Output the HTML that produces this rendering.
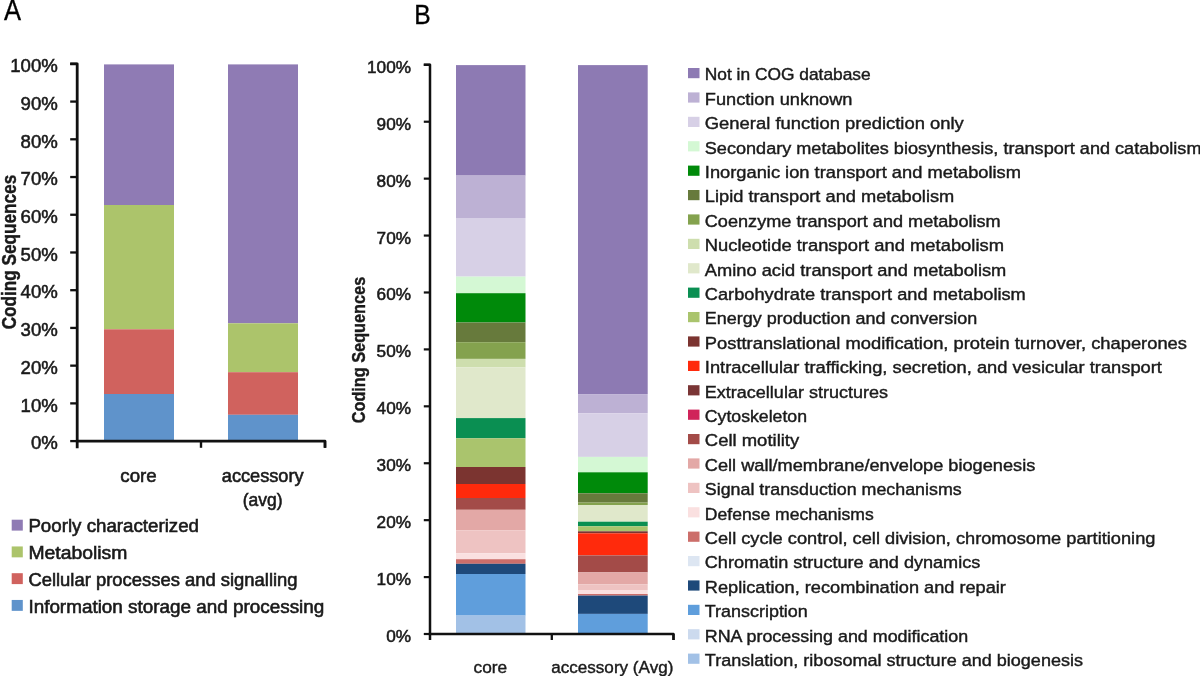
<!DOCTYPE html>
<html><head><meta charset="utf-8"><title>COG chart</title>
<style>
html,body{margin:0;padding:0;background:#fff;}
body{width:1200px;height:676px;overflow:hidden;}
svg{display:block;font-family:"Liberation Sans", sans-serif;filter:blur(0.3px);}
text{stroke:#1a1a1a;stroke-width:0.42px;}
</style></head><body>
<svg width="1200" height="676" viewBox="0 0 1200 676">
<rect width="1200" height="676" fill="#fff"/>
<rect x="104.00" y="64.40" width="70.00" height="140.60" fill="#8F7BB4"/>
<rect x="104.00" y="205.00" width="70.00" height="124.30" fill="#ACC46B"/>
<rect x="104.00" y="329.30" width="70.00" height="64.70" fill="#D0625E"/>
<rect x="104.00" y="394.00" width="70.00" height="47.10" fill="#5F93CB"/>
<rect x="228.00" y="64.40" width="70.00" height="258.90" fill="#8F7BB4"/>
<rect x="228.00" y="323.30" width="70.00" height="48.90" fill="#ACC46B"/>
<rect x="228.00" y="372.20" width="70.00" height="42.60" fill="#D0625E"/>
<rect x="228.00" y="414.80" width="70.00" height="26.30" fill="#5F93CB"/>
<path d="M70.2 63.85 H77.2 V448.2" fill="none" stroke="#111" stroke-width="2.8" stroke-linejoin="round"/>
<path d="M75.9 441.1 H325 V447.8" fill="none" stroke="#111" stroke-width="2.7" stroke-linejoin="round"/>
<line x1="70.2" y1="441.10" x2="77.2" y2="441.10" stroke="#111" stroke-width="2.3"/>
<line x1="70.2" y1="403.38" x2="77.2" y2="403.38" stroke="#111" stroke-width="2.3"/>
<line x1="70.2" y1="365.65" x2="77.2" y2="365.65" stroke="#111" stroke-width="2.3"/>
<line x1="70.2" y1="327.93" x2="77.2" y2="327.93" stroke="#111" stroke-width="2.3"/>
<line x1="70.2" y1="290.20" x2="77.2" y2="290.20" stroke="#111" stroke-width="2.3"/>
<line x1="70.2" y1="252.48" x2="77.2" y2="252.48" stroke="#111" stroke-width="2.3"/>
<line x1="70.2" y1="214.75" x2="77.2" y2="214.75" stroke="#111" stroke-width="2.3"/>
<line x1="70.2" y1="177.03" x2="77.2" y2="177.03" stroke="#111" stroke-width="2.3"/>
<line x1="70.2" y1="139.30" x2="77.2" y2="139.30" stroke="#111" stroke-width="2.3"/>
<line x1="70.2" y1="101.58" x2="77.2" y2="101.58" stroke="#111" stroke-width="2.3"/>
<line x1="70.2" y1="63.85" x2="77.2" y2="63.85" stroke="#111" stroke-width="2.3"/>
<line x1="201.0" y1="441.1" x2="201.0" y2="447.8" stroke="#111" stroke-width="2.4"/>
<line x1="325.0" y1="441.1" x2="325.0" y2="447.8" stroke="#111" stroke-width="2.4"/>
<text x="57.80" y="449.30" font-size="18.6" text-anchor="end" fill="#1a1a1a" style="stroke-width:0.55px">0%</text>
<text x="57.80" y="411.57" font-size="18.6" text-anchor="end" fill="#1a1a1a" style="stroke-width:0.55px">10%</text>
<text x="57.80" y="373.85" font-size="18.6" text-anchor="end" fill="#1a1a1a" style="stroke-width:0.55px">20%</text>
<text x="57.80" y="336.12" font-size="18.6" text-anchor="end" fill="#1a1a1a" style="stroke-width:0.55px">30%</text>
<text x="57.80" y="298.40" font-size="18.6" text-anchor="end" fill="#1a1a1a" style="stroke-width:0.55px">40%</text>
<text x="57.80" y="260.68" font-size="18.6" text-anchor="end" fill="#1a1a1a" style="stroke-width:0.55px">50%</text>
<text x="57.80" y="222.95" font-size="18.6" text-anchor="end" fill="#1a1a1a" style="stroke-width:0.55px">60%</text>
<text x="57.80" y="185.23" font-size="18.6" text-anchor="end" fill="#1a1a1a" style="stroke-width:0.55px">70%</text>
<text x="57.80" y="147.50" font-size="18.6" text-anchor="end" fill="#1a1a1a" style="stroke-width:0.55px">80%</text>
<text x="57.80" y="109.78" font-size="18.6" text-anchor="end" fill="#1a1a1a" style="stroke-width:0.55px">90%</text>
<text x="57.80" y="72.05" font-size="18.6" text-anchor="end" fill="#1a1a1a" style="stroke-width:0.55px">100%</text>
<text transform="translate(15.7,329.3) rotate(-90)" font-size="19.6" font-weight="bold" textLength="154.5" lengthAdjust="spacingAndGlyphs" fill="#1a1a1a">Coding Sequences</text>
<text x="120.30" y="481.80" font-size="18.6" textLength="36.3" lengthAdjust="spacingAndGlyphs" fill="#1a1a1a" style="stroke-width:0.6px">core</text>
<text x="221.80" y="481.80" font-size="18.6" textLength="81.8" lengthAdjust="spacingAndGlyphs" fill="#1a1a1a" style="stroke-width:0.6px">accessory</text>
<text x="242.80" y="505.50" font-size="18.6" textLength="39.8" lengthAdjust="spacingAndGlyphs" fill="#1a1a1a" style="stroke-width:0.6px">(avg)</text>
<text transform="translate(3.9,19.6) scale(0.88,1)" font-size="29" fill="#000" style="stroke:#000;stroke-width:0.35px">A</text>
<rect x="11.70" y="519.70" width="11.10" height="10.90" fill="#8F7BB4"/>
<text x="28.40" y="532.40" font-size="18.3" textLength="170.6" lengthAdjust="spacingAndGlyphs" fill="#1a1a1a" style="stroke-width:0.6px">Poorly characterized</text>
<rect x="11.70" y="546.45" width="11.10" height="10.90" fill="#ACC46B"/>
<text x="28.40" y="559.15" font-size="18.3" textLength="98.9" lengthAdjust="spacingAndGlyphs" fill="#1a1a1a" style="stroke-width:0.6px">Metabolism</text>
<rect x="11.70" y="573.20" width="11.10" height="10.90" fill="#D0625E"/>
<text x="28.40" y="585.90" font-size="18.3" textLength="269.2" lengthAdjust="spacingAndGlyphs" fill="#1a1a1a" style="stroke-width:0.6px">Cellular processes and signalling</text>
<rect x="11.70" y="599.95" width="11.10" height="10.90" fill="#5F93CB"/>
<text x="28.40" y="612.65" font-size="18.3" textLength="295.9" lengthAdjust="spacingAndGlyphs" fill="#1a1a1a" style="stroke-width:0.6px">Information storage and processing</text>
<rect x="456.00" y="65.10" width="69.50" height="110.50" fill="#8D7AB3"/>
<rect x="578.00" y="65.10" width="69.70" height="329.00" fill="#8D7AB3"/>
<rect x="456.00" y="175.60" width="69.50" height="42.40" fill="#BDB1D4"/>
<rect x="578.00" y="394.10" width="69.70" height="19.10" fill="#BDB1D4"/>
<rect x="456.00" y="218.00" width="69.50" height="58.60" fill="#D7D0E6"/>
<rect x="578.00" y="413.20" width="69.70" height="43.70" fill="#D7D0E6"/>
<rect x="456.00" y="276.60" width="69.50" height="16.60" fill="#D4F8D4"/>
<rect x="578.00" y="456.90" width="69.70" height="15.40" fill="#D4F8D4"/>
<rect x="456.00" y="293.20" width="69.50" height="29.30" fill="#008A0A"/>
<rect x="578.00" y="472.30" width="69.70" height="21.00" fill="#008A0A"/>
<rect x="456.00" y="322.50" width="69.50" height="19.70" fill="#677A3C"/>
<rect x="578.00" y="493.30" width="69.70" height="9.30" fill="#677A3C"/>
<rect x="456.00" y="342.20" width="69.50" height="16.70" fill="#84A24E"/>
<rect x="578.00" y="502.60" width="69.70" height="2.40" fill="#84A24E"/>
<rect x="456.00" y="358.90" width="69.50" height="8.50" fill="#CEDEAE"/>
<rect x="456.00" y="367.40" width="69.50" height="50.70" fill="#E0E8CB"/>
<rect x="578.00" y="505.00" width="69.70" height="16.70" fill="#E0E8CB"/>
<rect x="456.00" y="418.10" width="69.50" height="20.20" fill="#0A8F52"/>
<rect x="578.00" y="521.70" width="69.70" height="4.60" fill="#0A8F52"/>
<rect x="456.00" y="438.30" width="69.50" height="28.70" fill="#AAC46D"/>
<rect x="578.00" y="526.30" width="69.70" height="5.00" fill="#AAC46D"/>
<rect x="456.00" y="467.00" width="69.50" height="17.00" fill="#7B3430"/>
<rect x="578.00" y="531.30" width="69.70" height="2.00" fill="#7B3430"/>
<rect x="456.00" y="484.00" width="69.50" height="14.00" fill="#FF2A0C"/>
<rect x="578.00" y="533.30" width="69.70" height="22.10" fill="#FF2A0C"/>
<rect x="456.00" y="498.00" width="69.50" height="11.80" fill="#A34B48"/>
<rect x="578.00" y="555.40" width="69.70" height="17.00" fill="#A34B48"/>
<rect x="456.00" y="509.80" width="69.50" height="20.50" fill="#E3A8A6"/>
<rect x="578.00" y="572.40" width="69.70" height="11.90" fill="#E3A8A6"/>
<rect x="456.00" y="530.30" width="69.50" height="23.00" fill="#EEC3C2"/>
<rect x="578.00" y="584.30" width="69.70" height="5.70" fill="#EEC3C2"/>
<rect x="456.00" y="553.30" width="69.50" height="5.90" fill="#FAE0E0"/>
<rect x="578.00" y="590.00" width="69.70" height="4.00" fill="#FAE0E0"/>
<rect x="456.00" y="559.20" width="69.50" height="4.60" fill="#CC6E6A"/>
<rect x="578.00" y="594.00" width="69.70" height="1.60" fill="#CC6E6A"/>
<rect x="456.00" y="563.80" width="69.50" height="10.20" fill="#1E497A"/>
<rect x="578.00" y="595.60" width="69.70" height="18.30" fill="#1E497A"/>
<rect x="456.00" y="574.00" width="69.50" height="41.60" fill="#5F9EDC"/>
<rect x="578.00" y="613.90" width="69.70" height="19.10" fill="#5F9EDC"/>
<rect x="456.00" y="615.60" width="69.50" height="18.40" fill="#A2C1E6"/>
<rect x="578.00" y="633.00" width="69.70" height="1.00" fill="#A2C1E6"/>
<path d="M423.8 64.8 H430.0 V640" fill="none" stroke="#111" stroke-width="2.5" stroke-linejoin="round"/>
<path d="M428.8 634.0 H673.5 V640" fill="none" stroke="#111" stroke-width="2.4" stroke-linejoin="round"/>
<line x1="423.8" y1="634.00" x2="430.0" y2="634.00" stroke="#111" stroke-width="2.2"/>
<text x="411.00" y="642.00" font-size="17.2" text-anchor="end" fill="#1a1a1a" style="stroke-width:0.55px">0%</text>
<line x1="423.8" y1="577.08" x2="430.0" y2="577.08" stroke="#111" stroke-width="2.2"/>
<text x="411.00" y="585.08" font-size="17.2" text-anchor="end" fill="#1a1a1a" style="stroke-width:0.55px">10%</text>
<line x1="423.8" y1="520.16" x2="430.0" y2="520.16" stroke="#111" stroke-width="2.2"/>
<text x="411.00" y="528.16" font-size="17.2" text-anchor="end" fill="#1a1a1a" style="stroke-width:0.55px">20%</text>
<line x1="423.8" y1="463.24" x2="430.0" y2="463.24" stroke="#111" stroke-width="2.2"/>
<text x="411.00" y="471.24" font-size="17.2" text-anchor="end" fill="#1a1a1a" style="stroke-width:0.55px">30%</text>
<line x1="423.8" y1="406.32" x2="430.0" y2="406.32" stroke="#111" stroke-width="2.2"/>
<text x="411.00" y="414.32" font-size="17.2" text-anchor="end" fill="#1a1a1a" style="stroke-width:0.55px">40%</text>
<line x1="423.8" y1="349.40" x2="430.0" y2="349.40" stroke="#111" stroke-width="2.2"/>
<text x="411.00" y="357.40" font-size="17.2" text-anchor="end" fill="#1a1a1a" style="stroke-width:0.55px">50%</text>
<line x1="423.8" y1="292.48" x2="430.0" y2="292.48" stroke="#111" stroke-width="2.2"/>
<text x="411.00" y="300.48" font-size="17.2" text-anchor="end" fill="#1a1a1a" style="stroke-width:0.55px">60%</text>
<line x1="423.8" y1="235.56" x2="430.0" y2="235.56" stroke="#111" stroke-width="2.2"/>
<text x="411.00" y="243.56" font-size="17.2" text-anchor="end" fill="#1a1a1a" style="stroke-width:0.55px">70%</text>
<line x1="423.8" y1="178.64" x2="430.0" y2="178.64" stroke="#111" stroke-width="2.2"/>
<text x="411.00" y="186.64" font-size="17.2" text-anchor="end" fill="#1a1a1a" style="stroke-width:0.55px">80%</text>
<line x1="423.8" y1="121.72" x2="430.0" y2="121.72" stroke="#111" stroke-width="2.2"/>
<text x="411.00" y="129.72" font-size="17.2" text-anchor="end" fill="#1a1a1a" style="stroke-width:0.55px">90%</text>
<line x1="423.8" y1="64.80" x2="430.0" y2="64.80" stroke="#111" stroke-width="2.2"/>
<text x="411.00" y="72.80" font-size="17.2" text-anchor="end" fill="#1a1a1a" style="stroke-width:0.55px">100%</text>
<line x1="551.8" y1="634.0" x2="551.8" y2="640" stroke="#111" stroke-width="2.3"/>
<line x1="673.5" y1="634.0" x2="673.5" y2="640" stroke="#111" stroke-width="2.3"/>
<text transform="translate(364.6,423.3) rotate(-90)" font-size="17.6" font-weight="bold" textLength="146.5" lengthAdjust="spacingAndGlyphs" fill="#1a1a1a">Coding Sequences</text>
<text x="473.60" y="672.50" font-size="17.4" textLength="33.6" lengthAdjust="spacingAndGlyphs" fill="#1a1a1a">core</text>
<text x="551.20" y="672.50" font-size="17.4" textLength="122.2" lengthAdjust="spacingAndGlyphs" fill="#1a1a1a">accessory (Avg)</text>
<text transform="translate(414.2,24.0) scale(0.87,1)" font-size="28.3" fill="#000" style="stroke:#000;stroke-width:0.35px">B</text>
<rect x="688.00" y="68.00" width="11.50" height="10.20" fill="#8D7AB3"/>
<text x="704.80" y="80.30" font-size="16.9" textLength="165.9" lengthAdjust="spacingAndGlyphs" fill="#1a1a1a">Not in COG database</text>
<rect x="688.00" y="92.40" width="11.50" height="10.20" fill="#BDB1D4"/>
<text x="704.80" y="104.70" font-size="16.9" textLength="147.7" lengthAdjust="spacingAndGlyphs" fill="#1a1a1a">Function unknown</text>
<rect x="688.00" y="116.80" width="11.50" height="10.20" fill="#D7D0E6"/>
<text x="704.80" y="129.10" font-size="16.9" textLength="259.0" lengthAdjust="spacingAndGlyphs" fill="#1a1a1a">General function prediction only</text>
<rect x="688.00" y="141.20" width="11.50" height="10.20" fill="#D4F8D4"/>
<text x="704.80" y="153.50" font-size="16.9" textLength="496.7" lengthAdjust="spacingAndGlyphs" fill="#1a1a1a">Secondary metabolites biosynthesis, transport and catabolism</text>
<rect x="688.00" y="165.60" width="11.50" height="10.20" fill="#008A0A"/>
<text x="704.80" y="177.90" font-size="16.9" textLength="316.2" lengthAdjust="spacingAndGlyphs" fill="#1a1a1a">Inorganic ion transport and metabolism</text>
<rect x="688.00" y="190.00" width="11.50" height="10.20" fill="#677A3C"/>
<text x="704.80" y="202.30" font-size="16.9" textLength="249.5" lengthAdjust="spacingAndGlyphs" fill="#1a1a1a">Lipid transport and metabolism</text>
<rect x="688.00" y="214.40" width="11.50" height="10.20" fill="#84A24E"/>
<text x="704.80" y="226.70" font-size="16.9" textLength="295.9" lengthAdjust="spacingAndGlyphs" fill="#1a1a1a">Coenzyme transport and metabolism</text>
<rect x="688.00" y="238.80" width="11.50" height="10.20" fill="#CEDEAE"/>
<text x="704.80" y="251.10" font-size="16.9" textLength="299.2" lengthAdjust="spacingAndGlyphs" fill="#1a1a1a">Nucleotide transport and metabolism</text>
<rect x="688.00" y="263.20" width="11.50" height="10.20" fill="#E0E8CB"/>
<text x="704.80" y="275.50" font-size="16.9" textLength="301.5" lengthAdjust="spacingAndGlyphs" fill="#1a1a1a">Amino acid transport and metabolism</text>
<rect x="688.00" y="287.60" width="11.50" height="10.20" fill="#0A8F52"/>
<text x="704.80" y="299.90" font-size="16.9" textLength="321.0" lengthAdjust="spacingAndGlyphs" fill="#1a1a1a">Carbohydrate transport and metabolism</text>
<rect x="688.00" y="312.00" width="11.50" height="10.20" fill="#AAC46D"/>
<text x="704.80" y="324.30" font-size="16.9" textLength="272.5" lengthAdjust="spacingAndGlyphs" fill="#1a1a1a">Energy production and conversion</text>
<rect x="688.00" y="336.40" width="11.50" height="10.20" fill="#7B3430"/>
<text x="704.80" y="348.70" font-size="16.9" textLength="482.2" lengthAdjust="spacingAndGlyphs" fill="#1a1a1a">Posttranslational modification, protein turnover, chaperones</text>
<rect x="688.00" y="360.80" width="11.50" height="10.20" fill="#FF2A0C"/>
<text x="704.80" y="373.10" font-size="16.9" textLength="457.1" lengthAdjust="spacingAndGlyphs" fill="#1a1a1a">Intracellular trafficking, secretion, and vesicular transport</text>
<rect x="688.00" y="385.20" width="11.50" height="10.20" fill="#7A3535"/>
<text x="704.80" y="397.50" font-size="16.9" textLength="183.2" lengthAdjust="spacingAndGlyphs" fill="#1a1a1a">Extracellular structures</text>
<rect x="688.00" y="409.60" width="11.50" height="10.20" fill="#D0245A"/>
<text x="704.80" y="421.90" font-size="16.9" textLength="102.2" lengthAdjust="spacingAndGlyphs" fill="#1a1a1a">Cytoskeleton</text>
<rect x="688.00" y="434.00" width="11.50" height="10.20" fill="#A34B48"/>
<text x="704.80" y="446.30" font-size="16.9" textLength="94.4" lengthAdjust="spacingAndGlyphs" fill="#1a1a1a">Cell motility</text>
<rect x="688.00" y="458.40" width="11.50" height="10.20" fill="#E3A8A6"/>
<text x="704.80" y="470.70" font-size="16.9" textLength="330.5" lengthAdjust="spacingAndGlyphs" fill="#1a1a1a">Cell wall/membrane/envelope biogenesis</text>
<rect x="688.00" y="482.80" width="11.50" height="10.20" fill="#EEC3C2"/>
<text x="704.80" y="495.10" font-size="16.9" textLength="256.9" lengthAdjust="spacingAndGlyphs" fill="#1a1a1a">Signal transduction mechanisms</text>
<rect x="688.00" y="507.20" width="11.50" height="10.20" fill="#FAE0E0"/>
<text x="704.80" y="519.50" font-size="16.9" textLength="168.9" lengthAdjust="spacingAndGlyphs" fill="#1a1a1a">Defense mechanisms</text>
<rect x="688.00" y="531.60" width="11.50" height="10.20" fill="#CC6E6A"/>
<text x="704.80" y="543.90" font-size="16.9" textLength="450.6" lengthAdjust="spacingAndGlyphs" fill="#1a1a1a">Cell cycle control, cell division, chromosome partitioning</text>
<rect x="688.00" y="556.00" width="11.50" height="10.20" fill="#DDE6F2"/>
<text x="704.80" y="568.30" font-size="16.9" textLength="275.5" lengthAdjust="spacingAndGlyphs" fill="#1a1a1a">Chromatin structure and dynamics</text>
<rect x="688.00" y="580.40" width="11.50" height="10.20" fill="#1E497A"/>
<text x="704.80" y="592.70" font-size="16.9" textLength="301.1" lengthAdjust="spacingAndGlyphs" fill="#1a1a1a">Replication, recombination and repair</text>
<rect x="688.00" y="604.80" width="11.50" height="10.20" fill="#5F9EDC"/>
<text x="704.80" y="617.10" font-size="16.9" textLength="103.0" lengthAdjust="spacingAndGlyphs" fill="#1a1a1a">Transcription</text>
<rect x="688.00" y="629.20" width="11.50" height="10.20" fill="#CCDAEE"/>
<text x="704.80" y="641.50" font-size="16.9" textLength="263.4" lengthAdjust="spacingAndGlyphs" fill="#1a1a1a">RNA processing and modification</text>
<rect x="688.00" y="653.60" width="11.50" height="10.20" fill="#A2C1E6"/>
<text x="704.80" y="665.90" font-size="16.9" textLength="378.2" lengthAdjust="spacingAndGlyphs" fill="#1a1a1a">Translation, ribosomal structure and biogenesis</text>
</svg>
</body></html>
